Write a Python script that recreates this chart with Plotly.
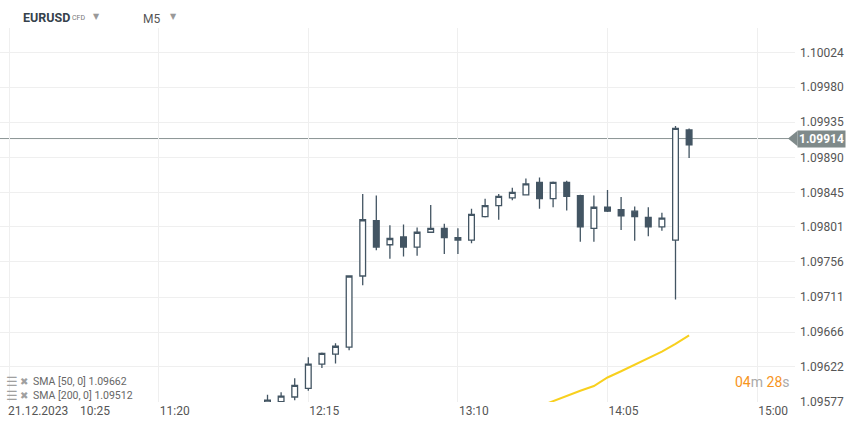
import plotly.graph_objects as go

# ---------------- data ----------------
day = "2023-12-21"
times = ["12:00", "12:05", "12:10", "12:15", "12:20", "12:25", "12:30", "12:35",
         "12:40", "12:45", "12:50", "12:55", "13:00", "13:05", "13:10", "13:15",
         "13:20", "13:25", "13:30", "13:35", "13:40", "13:45", "13:50", "13:55",
         "14:00", "14:05", "14:10", "14:15", "14:20", "14:25", "14:30", "14:35"]
opens = [1.09570, 1.09577, 1.09583, 1.09594, 1.09625, 1.09638, 1.09647, 1.09738,
         1.09809, 1.09778, 1.09788, 1.09775, 1.09794, 1.09799, 1.09787, 1.09784,
         1.09814, 1.09828, 1.09838, 1.09842, 1.09858, 1.09837, 1.09858, 1.09841,
         1.09799, 1.09826, 1.09823, 1.09821, 1.09813, 1.09801, 1.09784, 1.09925]
highs = [1.09586, 1.09589, 1.09607, 1.09634, 1.09640, 1.09652, 1.09739, 1.09843,
         1.09841, 1.09803, 1.09804, 1.09800, 1.09829, 1.09805, 1.09799, 1.09824,
         1.09837, 1.09843, 1.09851, 1.09863, 1.09864, 1.09859, 1.09860, 1.09842,
         1.09841, 1.09848, 1.09839, 1.09827, 1.09826, 1.09819, 1.09930, 1.09927]
lows = [1.09560, 1.09572, 1.09579, 1.09591, 1.09620, 1.09626, 1.09643, 1.09726,
        1.09771, 1.09760, 1.09763, 1.09764, 1.09793, 1.09766, 1.09766, 1.09780,
        1.09813, 1.09810, 1.09835, 1.09841, 1.09824, 1.09826, 1.09822, 1.09782,
        1.09782, 1.09820, 1.09797, 1.09783, 1.09789, 1.09796, 1.09708, 1.09889]
closes = [1.09579, 1.09584, 1.09598, 1.09625, 1.09639, 1.09648, 1.09738, 1.09810,
          1.09775, 1.09786, 1.09775, 1.09794, 1.09799, 1.09787, 1.09784, 1.09817,
          1.09828, 1.09840, 1.09845, 1.09856, 1.09837, 1.09858, 1.09840, 1.09801,
          1.09826, 1.09821, 1.09815, 1.09814, 1.09801, 1.09812, 1.09927, 1.09906]

sma_times = ["13:40", "13:45", "13:50", "13:55", "14:00", "14:05", "14:10",
             "14:15", "14:20", "14:25", "14:30", "14:35"]
sma50 = [1.09571, 1.09578, 1.09584, 1.09591, 1.09597, 1.09608, 1.09616,
         1.09624, 1.09633, 1.09641, 1.09651, 1.09662]

last_price = 1.09914
sma50_last = "1.09662"
sma200_last = "1.09512"

y_tick_labels = ["1.09577", "1.09622", "1.09666", "1.09711", "1.09756", "1.09801",
                 "1.09845", "1.09890", "1.09935", "1.09980", "1.10024"]
x_tick_times = ["10:25", "11:20", "12:15", "13:10", "14:05", "15:00"]
x_tick_labels = ["", "11:20", "12:15", "13:10", "14:05", "15:00"]

# ---------------- layout geometry ----------------
W, H = 859, 427
PL, PR = 0, 795          # plot left/right in px
PT, PB = 28, 402         # plot top/bottom in px
PW, PH = PR - PL, PB - PT

def px(x):
    return (x - PL) / PW

def py(y):
    return (PB - y) / PH

y_lo, y_hi = 1.095766, 1.100556
val_per_px = (y_hi - y_lo) / PH

dark = "#435563"
grid = "#efefef"
label = "#555555"

fig = go.Figure()

fig.add_trace(go.Candlestick(
    x=[f"{day} {t}" for t in times],
    open=opens, high=highs, low=lows, close=closes,
    increasing=dict(line=dict(color=dark, width=1.3), fillcolor="#ffffff"),
    decreasing=dict(line=dict(color=dark, width=1.3), fillcolor=dark),
    whiskerwidth=0,
    showlegend=False,
    hoverinfo="skip",
))

fig.add_trace(go.Scatter(
    x=[f"{day} {t}" for t in sma_times], y=sma50,
    mode="lines", line=dict(color="#f8d01e", width=2),
    showlegend=False, hoverinfo="skip",
))

# current price line
fig.add_shape(type="line", xref="paper", yref="y", x0=0, x1=1,
              y0=last_price, y1=last_price,
              line=dict(color="#8a9393", width=1), layer="between")
# price tag arrow
tip_x, box_x = px(788), px(797.5)
half = 7.8 * val_per_px
fig.add_shape(type="path", xref="paper", yref="y",
              path=f"M {tip_x},{last_price} L {box_x},{last_price + half} "
                   f"L {box_x},{last_price - half} Z",
              fillcolor="#7f8a8a", line=dict(width=0), layer="above")

ann = []
ann.append(dict(xref="paper", yref="y", x=px(797), y=last_price,
                xanchor="left", yanchor="middle", showarrow=False,
                text="<b>" + f"{last_price:.5f}" + "</b>",
                font=dict(family="Roboto", size=12, color="#ffffff"),
                bgcolor="#7f8a8a", borderpad=1))

# header
ann.append(dict(xref="paper", yref="paper", x=px(21), y=py(18), xanchor="left",
                yanchor="middle", showarrow=False, text="<b>EURUSD</b>",
                font=dict(family="Roboto", size=12.5, color="#36424c")))
ann.append(dict(xref="paper", yref="paper", x=px(70), y=py(18), xanchor="left",
                yanchor="middle", showarrow=False, text="CFD",
                font=dict(family="Roboto", size=7, color="#777777")))
ann.append(dict(xref="paper", yref="paper", x=px(96.5), y=py(16), xanchor="center",
                yanchor="middle", showarrow=False, text="▼",
                font=dict(family="DejaVu Sans", size=8, color="#999999")))
ann.append(dict(xref="paper", yref="paper", x=px(141), y=py(19), xanchor="left",
                yanchor="middle", showarrow=False, text="M5",
                font=dict(family="Roboto", size=12, color="#555555")))
ann.append(dict(xref="paper", yref="paper", x=px(173), y=py(16), xanchor="center",
                yanchor="middle", showarrow=False, text="▼",
                font=dict(family="DejaVu Sans", size=8, color="#999999")))

# SMA legend
for i, (txt, yy) in enumerate([(f"SMA [50, 0] {sma50_last}", 381),
                                (f"SMA [200, 0] {sma200_last}", 395)]):
    ann.append(dict(xref="paper", yref="paper", x=px(4), y=py(yy), xanchor="left",
                    yanchor="middle", showarrow=False, text="☰",
                    font=dict(family="DejaVu Sans", size=13, color="#a0a0a0")))
    ann.append(dict(xref="paper", yref="paper", x=px(18), y=py(yy), xanchor="left",
                    yanchor="middle", showarrow=False, text="✖",
                    font=dict(family="DejaVu Sans", size=10, color="#a0a0a0")))
    ann.append(dict(xref="paper", yref="paper", x=px(31), y=py(yy), xanchor="left",
                    yanchor="middle", showarrow=False, text=txt,
                    font=dict(family="Roboto", size=10.5, color="#666666")))

# countdown
orange, grey = "#f7941d", "#aaaaaa"
ann.append(dict(xref="paper", yref="paper", x=px(792), y=py(382), xanchor="right",
                yanchor="middle", showarrow=False,
                text=(f"<span style='color:{orange}'>04</span>"
                      f"<span style='color:{grey}'>m</span> "
                      f"<span style='color:{orange}'>28</span>"
                      f"<span style='color:{grey}'>s</span>"),
                font=dict(family="Roboto", size=14, color=orange)))

# first x label (date + time, left aligned)
ann.append(dict(xref="paper", yref="paper", x=px(6), y=py(411), xanchor="left",
                yanchor="middle", showarrow=False, text="21.12.2023",
                font=dict(family="Roboto", size=12, color=label)))
ann.append(dict(xref="paper", yref="paper", x=px(78), y=py(411), xanchor="left",
                yanchor="middle", showarrow=False, text="10:25",
                font=dict(family="Roboto", size=12, color=label)))

fig.update_layout(
    width=W, height=H,
    margin=dict(l=PL, r=W - PR, t=PT, b=H - PB, autoexpand=False),
    paper_bgcolor="#ffffff", plot_bgcolor="#ffffff",
    boxgap=0.4,
    annotations=ann,
    font=dict(family="Roboto", size=12, color=label),
    xaxis=dict(
        type="date",
        range=[f"{day} 10:21:39", f"{day} 15:13:56"],
        rangeslider=dict(visible=False),
        tickmode="array",
        tickvals=[f"{day} {t}" for t in x_tick_times],
        ticktext=x_tick_labels,
        ticklabelshift=16,
        showgrid=True, gridcolor=grid, gridwidth=1,
        showline=False, zeroline=False, ticks="",
        tickfont=dict(family="Roboto", size=12, color=label),
        fixedrange=True,
    ),
    yaxis=dict(
        side="right",
        range=[y_lo, y_hi],
        tickmode="array",
        tickvals=[float(v) for v in y_tick_labels],
        ticktext=y_tick_labels,
        ticklabelstandoff=4,
        showgrid=True, gridcolor=grid, gridwidth=1,
        showline=False, zeroline=False, ticks="",
        tickfont=dict(family="Roboto", size=12, color=label),
        fixedrange=True,
    ),
)

fig.write_html("out.html",
               config={"displayModeBar": False, "staticPlot": True},
               post_script="document.body.style.margin='0px';"
                           "document.body.style.padding='0px';")
